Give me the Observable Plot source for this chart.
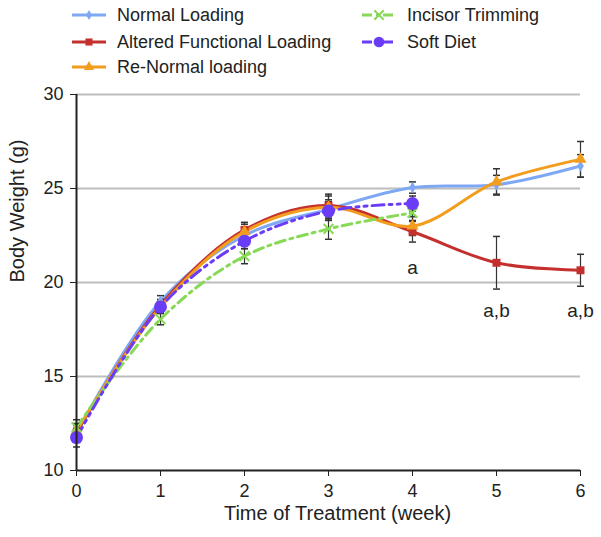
<!DOCTYPE html>
<html>
<head>
<meta charset="utf-8">
<script src="https://cdn.jsdelivr.net/npm/d3@7"></script>
<script src="https://cdn.jsdelivr.net/npm/@observablehq/plot@0.6"></script>
<style>
  body { margin: 0; background: #fff; }
  #wrap { position: relative; width: 601px; height: 537px; font-family: "Liberation Sans", Arial, sans-serif; }
  #legend { position: absolute; left: 0; top: 0; }
</style>
</head>
<body>
<div id="wrap"></div>
<script>
// ---- data ----
const weeks = [0, 1, 2, 3, 4, 5, 6];
const seriesNames = ["Normal Loading", "Altered Functional Loading", "Re-Normal loading", "Incisor Trimming", "Soft Diet"];
const normalMean = [12.0, 19.0, 22.5, 23.9, 25.05, 25.2, 26.2];
const normalErr  = [0.4, 0.3, 0.3, 0.5, 0.3, 0.5, 0.6];
const alteredMean = [12.0, 18.8, 22.8, 24.1, 22.7, 21.05, 20.65];
const alteredErr  = [0.4, 0.3, 0.4, 0.6, 0.55, 1.4, 0.85];
const renormalMean = [12.1, 18.7, 22.7, 24.0, 23.0, 25.35, 26.55];
const renormalErr  = [0.4, 0.3, 0.4, 0.6, 0.5, 0.7, 0.95];
const incisorMean = [12.3, 18.05, 21.4, 22.85, 23.7];
const incisorErr  = [0.4, 0.3, 0.4, 0.55, 0.4];
const softMean = [11.75, 18.7, 22.2, 23.8, 24.2];
const softErr  = [0.5, 0.3, 0.4, 0.5, 0.4];
const yTicks = [10, 15, 20, 25, 30];
const gridValues = [15, 20, 25, 30];
const annotWeeks = [4, 5, 6];
const annotLabels = ["a", "a,b", "a,b"];
const annotY = [20.75, 18.5, 18.5];

// ---- styles ----
const colors = ["#7FA8F4", "#C4302E", "#F29D1E", "#88D957", "#6A3CF6"];
const dashes = [null, null, null, "10,5,3,5", "12,5,3,5,3,5"];

const means = [normalMean, alteredMean, renormalMean, incisorMean, softMean];
const errs = [normalErr, alteredErr, renormalErr, incisorErr, softErr];
const series = seriesNames.map((name, i) => ({
  name, color: colors[i], dash: dashes[i],
  data: means[i].map((v, j) => ({week: weeks[j], y: v, lo: v - errs[i][j], hi: v + errs[i][j]}))
}));

const capSymbol = { draw(ctx, size) { const r = Math.sqrt(size / Math.PI); ctx.moveTo(-r, 0); ctx.lineTo(r, 0); } };
const markerSym = ["diamond", "square", "triangle", "times", "circle"];
const markerR = [3.5, 4.5, 4.5, 4.5, 6.5];

const marks = [
  Plot.ruleY(gridValues, {stroke: "#BDBDBD", strokeWidth: 2}),
];
// lines
series.forEach((s) => {
  marks.push(Plot.line(s.data, {x: "week", y: "y", curve: "catmull-rom", stroke: s.color, strokeWidth: 3, strokeDasharray: s.dash}));
});
// error bars
series.forEach((s) => {
  marks.push(Plot.ruleX(s.data, {x: "week", y1: "lo", y2: "hi", stroke: "#333", strokeWidth: 1.2}));
  marks.push(Plot.dot(s.data, {x: "week", y: "lo", symbol: capSymbol, r: 3.5, stroke: "#333", strokeWidth: 1.5}));
  marks.push(Plot.dot(s.data, {x: "week", y: "hi", symbol: capSymbol, r: 3.5, stroke: "#333", strokeWidth: 1.5}));
});
// markers
series.forEach((s, i) => {
  if (markerSym[i] === "times") {
    marks.push(Plot.dot(s.data, {x: "week", y: "y", symbol: "times", r: markerR[i], stroke: s.color, strokeWidth: 2}));
  } else {
    marks.push(Plot.dot(s.data, {x: "week", y: "y", symbol: markerSym[i], r: markerR[i], fill: s.color, stroke: "none"}));
  }
});
// annotations
marks.push(Plot.text(annotWeeks.map((w, i) => ({w, y: annotY[i], t: annotLabels[i]})), {x: "w", y: "y", text: "t", fontSize: 19, fill: "#222"}));
// axes
marks.push(Plot.ruleX([0], {stroke: "#222", strokeWidth: 2}));
marks.push(Plot.ruleY([10], {stroke: "#222", strokeWidth: 2}));
marks.push(Plot.axisY({ticks: yTicks, tickSize: 6, tickPadding: 7, fontSize: 18, label: null, stroke: "#222", color: "#222"}));
marks.push(Plot.axisX({ticks: weeks, tickSize: 6, tickPadding: 8, fontSize: 18, label: null, tickFormat: d3.format("d"), color: "#222"}));
marks.push(Plot.text(["Time of Treatment (week)"], {frameAnchor: "bottom", dy: 49, dx: 9, fontSize: 20, fill: "#222"}));
marks.push(Plot.text(["Body Weight (g)"], {frameAnchor: "left", rotate: -90, dx: -59, fontSize: 20, fill: "#222"}));

const chart = Plot.plot({
  width: 601, height: 537,
  marginTop: 94, marginBottom: 67, marginLeft: 76, marginRight: 21,
  style: {fontFamily: "Liberation Sans, Arial, sans-serif", background: "#fff", overflow: "visible"},
  x: {domain: [0, 6]},
  y: {domain: [10, 30]},
  marks
});
document.getElementById("wrap").appendChild(chart);

// ---- legend overlay ----
const legendPos = [
  {x: 72, y: 15}, {x: 72, y: 42}, {x: 72, y: 67}, {x: 362, y: 15}, {x: 362, y: 42}
];
const lsvg = d3.select("#wrap").append("svg").attr("id", "legend").attr("width", 601).attr("height", 90);
series.forEach((s, i) => {
  const p = legendPos[i];
  const g = lsvg.append("g").attr("transform", `translate(${p.x},${p.y})`);
  g.append("line").attr("x1", 0).attr("x2", 34).attr("y1", 0).attr("y2", 0)
    .attr("stroke", s.color).attr("stroke-width", 3).attr("stroke-dasharray", s.dash ? (i === 3 ? "10,4,3,4" : "10,4,3,4") : null);
  const sym = d3.symbol().type([d3.symbolDiamond, d3.symbolSquare, d3.symbolTriangle, d3.symbolTimes, d3.symbolCircle][i])
    .size([30, 50, 45, 60, 90][i]);
  g.append("path").attr("d", sym()).attr("transform", "translate(17,0)")
    .attr("fill", i === 3 ? "none" : s.color).attr("stroke", i === 3 ? s.color : "none").attr("stroke-width", 2);
  g.append("text").attr("x", 45).attr("y", 0).attr("dy", "0.35em").attr("font-size", 18)
    .attr("font-family", "Liberation Sans, Arial, sans-serif").attr("fill", "#222").text(s.name);
});
</script>
</body>
</html>
